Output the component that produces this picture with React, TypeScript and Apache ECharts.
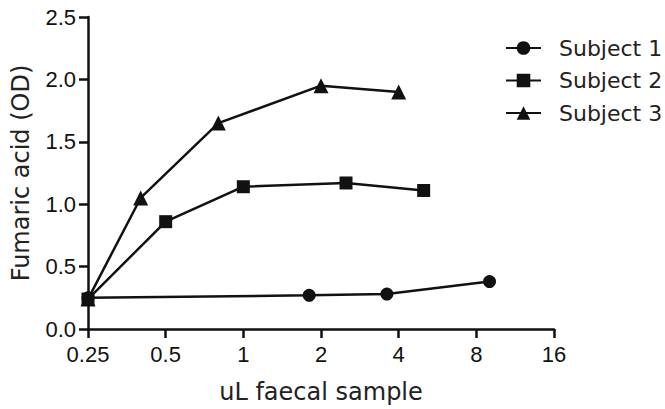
import React, { useEffect, useRef } from "react";
import * as echarts from "echarts";

const seriesNames = ["Subject 1", "Subject 2", "Subject 3"];
const s1X = [0.25, 1.8, 3.6, 9];
const s1Y = [0.25, 0.27, 0.28, 0.38];
const s2X = [0.25, 0.5, 1, 2.5, 5];
const s2Y = [0.24, 0.86, 1.14, 1.17, 1.11];
const s3X = [0.25, 0.4, 0.8, 2, 4];
const s3Y = [0.24, 1.05, 1.65, 1.95, 1.9];
const xTicks = [0.25, 0.5, 1, 2, 4, 8, 16];
const yTicks = [0, 0.5, 1, 1.5, 2, 2.5];

const INK = "#111";

export default function App() {
  const ref = useRef<HTMLDivElement>(null);
  useEffect(() => {
    document.body.style.margin = "0";
    const chart = echarts.init(ref.current!, undefined, { renderer: "svg" });
    const zip = (xs: number[], ys: number[]) => xs.map((x, i) => [x, ys[i]]);
    const symbols = ["circle", "rect", "triangle"];
    const sizes = [13, 13, 15];
    const datas = [zip(s1X, s1Y), zip(s2X, s2Y), zip(s3X, s3Y)];
    chart.setOption({
      animation: false,
      backgroundColor: "#fff",
      grid: {
        left: 88,
        right: 111,
        top: 17,
        bottom: 80,
        containLabel: false,
        outerBoundsMode: "none",
      },
      legend: {
        orient: "vertical",
        left: 500,
        top: 32,
        itemWidth: 35,
        itemHeight: 17,
        itemGap: 10.5,
        data: seriesNames,
        textStyle: {
          fontFamily: "DejaVu Sans",
          fontSize: 22,
          color: "#222",
          padding: [0, 0, 0, 13],
        },
      },
      xAxis: {
        type: "log",
        logBase: 2,
        min: xTicks[0],
        max: xTicks[xTicks.length - 1],
        splitNumber: xTicks.length - 1,
        name: "uL faecal sample",
        nameLocation: "middle",
        nameGap: 51,
        nameTextStyle: { fontFamily: "DejaVu Sans", fontSize: 24, color: "#222" },
        axisLine: { onZero: false, lineStyle: { color: INK, width: 2.5 } },
        axisTick: { length: 9, lineStyle: { color: INK, width: 2.5 } },
        axisLabel: {
          margin: 14,
          fontFamily: "Liberation Sans",
          fontSize: 22,
          color: INK,
          formatter: (v: number) => String(+v.toPrecision(3)),
        },
        splitLine: { show: false },
      },
      yAxis: {
        type: "value",
        min: yTicks[0],
        max: yTicks[yTicks.length - 1],
        interval: 0.5,
        name: "Fumaric acid (OD)",
        nameLocation: "middle",
        nameGap: 55,
        nameTextStyle: { fontFamily: "DejaVu Sans", fontSize: 24, color: "#222" },
        axisLine: { show: true, lineStyle: { color: INK, width: 2.5 } },
        axisTick: { show: true, length: 9, lineStyle: { color: INK, width: 2.5 } },
        axisLabel: {
          margin: 12,
          fontFamily: "Liberation Sans",
          fontSize: 22,
          color: INK,
          formatter: (v: number) => v.toFixed(1),
        },
        splitLine: { show: false },
      },
      series: seriesNames.map((name, i) => ({
        name,
        type: "line",
        data: datas[i],
        symbol: symbols[i],
        symbolSize: sizes[i],
        showAllSymbol: true,
        lineStyle: { color: INK, width: 2.5 },
        itemStyle: { color: INK },
        z: 3 - i,
      })),
    });
    return () => chart.dispose();
  }, []);
  return <div ref={ref} style={{ width: 665, height: 409 }} />;
}
